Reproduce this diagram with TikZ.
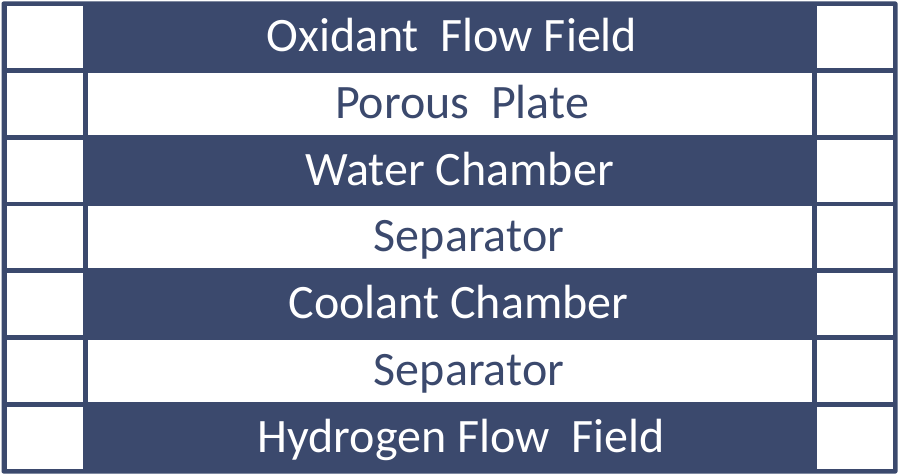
\documentclass[tikz,border=0pt]{standalone}
\usepackage{fontspec}
\setmainfont{Carlito}
\usetikzlibrary{positioning}
\definecolor{stacknavy}{RGB}{59,73,109}

\begin{document}
\begin{tikzpicture}[x=1pt,y=1pt,yscale=-1,xscale=1,
  sidecell/.style={fill=white,minimum width=76pt,minimum height=62pt,inner sep=0pt},
  whiteband/.style={fill=white,minimum width=724pt,minimum height=62pt,inner sep=0pt},
  layertext/.style={inner sep=0pt,text height=29pt,text depth=0pt,font=\fontsize{48}{52}\selectfont},
  darklayer/.style={layertext,text=white},
  lightlayer/.style={layertext,text=stacknavy}]
\useasboundingbox (0,0) rectangle (900,476);

%Shape: Frame
\node[fill=stacknavy,rounded corners=2pt,minimum width=896pt,minimum height=472pt,inner sep=0pt] (frame) at (449.5,237.5) {};

%Shape: Left cells
\node[sidecell] (left1) at (45,37) {};
\node[sidecell] (left2) at (45,103.8) {};
\node[sidecell] (left3) at (45,170.6) {};
\node[sidecell] (left4) at (45,237.4) {};
\node[sidecell] (left5) at (45,304.2) {};
\node[sidecell] (left6) at (45,371) {};
\node[sidecell] (left7) at (45,437.8) {};

%Shape: Right cells
\node[sidecell] (right1) at (855,37) {};
\node[sidecell] (right2) at (855,103.8) {};
\node[sidecell] (right3) at (855,170.6) {};
\node[sidecell] (right4) at (855,237.4) {};
\node[sidecell] (right5) at (855,304.2) {};
\node[sidecell] (right6) at (855,371) {};
\node[sidecell] (right7) at (855,437.8) {};

%Shape: White bands
\node[whiteband] (band2) at (450,103.8) {};
\node[whiteband] (band4) at (450,237.4) {};
\node[whiteband] (band6) at (450,371) {};

% Text Node
\node[darklayer] (oxidant) at (452,37) {Oxidant\ \ Flow Field};
% Text Node
\node[lightlayer] (porous) at (462,103.8) {Porous\ \ Plate};
% Text Node
\node[darklayer] (water) at (459.5,170.6) {Water Chamber};
% Text Node
\node[lightlayer] (sepone) at (469,237.4) {Separator};
% Text Node
\node[darklayer] (coolant) at (458.5,304.2) {Coolant Chamber};
% Text Node
\node[lightlayer] (septwo) at (469,371) {Separator};
% Text Node
\node[darklayer] (hydrogen) at (461,437.8) {Hydrogen Flow\ \ Field};

\end{tikzpicture}
\end{document}
